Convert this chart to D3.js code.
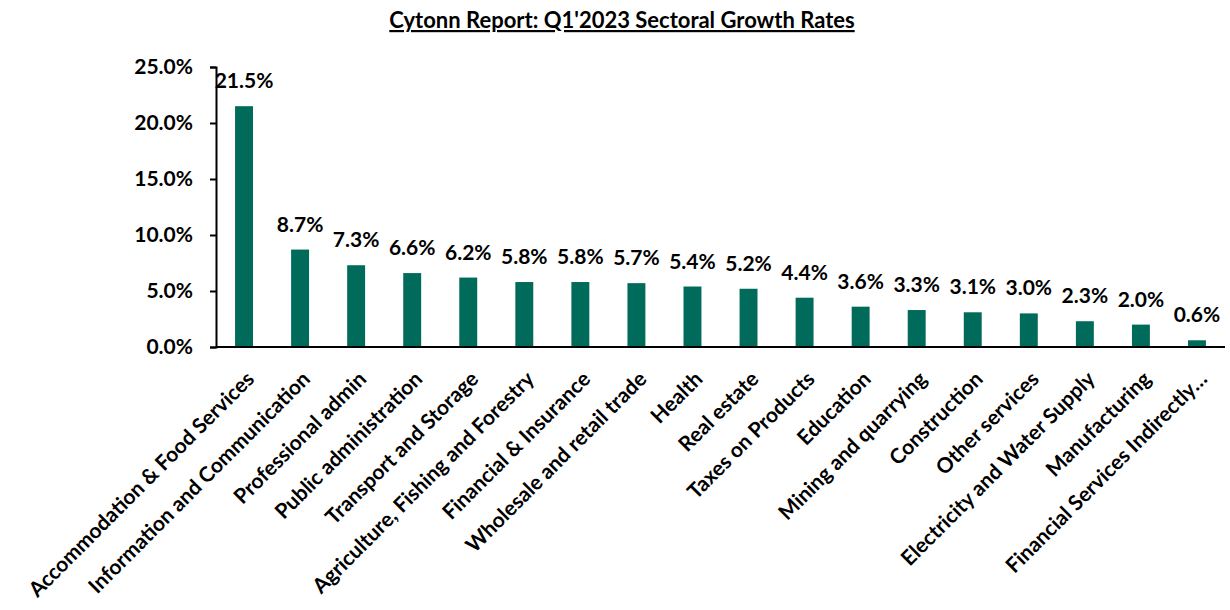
<!DOCTYPE html>
<html>
<head>
<meta charset="utf-8">
<script src="https://cdn.jsdelivr.net/npm/d3@7"></script>
<style>
  body { margin: 0; background: #fff; }
  svg text { font-family: Lato, "Open Sans", sans-serif; font-weight: bold; fill: #000; }
</style>
</head>
<body>
<svg id="chart"></svg>
<script>
const sectors = [
  'Accommodation & Food Services', 'Information and Communication', 'Professional admin',
  'Public administration', 'Transport and Storage', 'Agriculture, Fishing and Forestry',
  'Financial & Insurance', 'Wholesale and retail trade', 'Health', 'Real estate',
  'Taxes on Products', 'Education', 'Mining and quarrying', 'Construction',
  'Other services', 'Electricity and Water Supply', 'Manufacturing', 'Financial Services Indirectly…'
];
const growth = [21.5, 8.7, 7.3, 6.6, 6.2, 5.8, 5.8, 5.7, 5.4, 5.2, 4.4, 3.6, 3.3, 3.1, 3.0, 2.3, 2.0, 0.6];
const yTicks = [0, 5, 10, 15, 20, 25];

const width = 1230, height = 610;
const svg = d3.select('#chart').attr('width', width).attr('height', height);

const x = d3.scaleBand().domain(sectors).range([216, 1225]).paddingInner(0.68).paddingOuter(0.34);
const y = d3.scaleLinear().domain([0, 25]).range([347, 67]);

// title
svg.append('text')
  .attr('x', 622).attr('y', 28)
  .attr('text-anchor', 'middle')
  .style('font-size', '22px')
  .style('text-decoration', 'underline')
  .text("Cytonn Report: Q1'2023 Sectoral Growth Rates");

// y axis
svg.append('g')
  .attr('transform', 'translate(216,0)')
  .call(d3.axisLeft(y).tickValues(yTicks).tickSize(6).tickFormat(d => d.toFixed(1) + '%'))
  .call(g => g.selectAll('path, line').attr('stroke', '#000').attr('stroke-width', 2))
  .call(g => g.selectAll('text').style('font-size', '21px').attr('x', -23).attr('font-family', null));

// bars
svg.append('g').selectAll('rect')
  .data(growth)
  .join('rect')
  .attr('x', (d, i) => x(sectors[i]))
  .attr('width', x.bandwidth())
  .attr('y', d => y(d))
  .attr('height', d => y(0) - y(d))
  .attr('fill', '#006b5a');

// value labels
svg.append('g').selectAll('text')
  .data(growth)
  .join('text')
  .attr('x', (d, i) => x(sectors[i]) + x.bandwidth() / 2)
  .attr('y', d => y(d) - 18)
  .attr('text-anchor', 'middle')
  .style('font-size', '21px')
  .text(d => d.toFixed(1) + '%');

// baseline
svg.append('line')
  .attr('x1', 216).attr('x2', 1225)
  .attr('y1', y(0)).attr('y2', y(0))
  .attr('stroke', '#000').attr('stroke-width', 2);

// category labels
svg.append('g').selectAll('text')
  .data(sectors)
  .join('text')
  .attr('transform', d => `translate(${x(d) + x.bandwidth() / 2 + 1},${y(0) + 23}) rotate(-45)`)
  .attr('text-anchor', 'end')
  .attr('dy', '0.7em')
  .style('font-size', '21px')
  .text(d => d);
</script>
</body>
</html>
